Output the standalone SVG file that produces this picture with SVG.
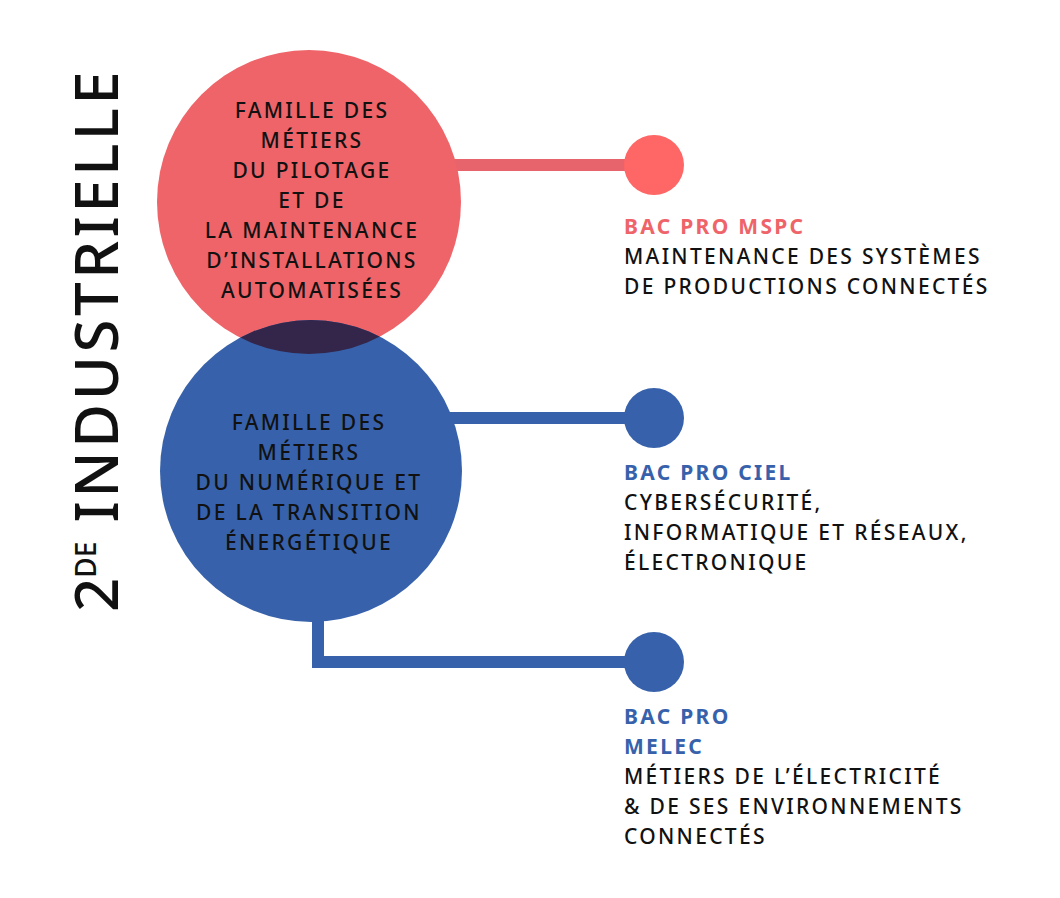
<svg xmlns="http://www.w3.org/2000/svg" width="1060" height="898" viewBox="0 0 1060 898">
<style>
.t{font-family:"Noto Sans","DejaVu Sans",sans-serif;font-size:21px;fill:#111;font-weight:500;letter-spacing:2.3px}
.c{text-anchor:middle}
.h{font-weight:700}
.lr{stroke:#E8646C;stroke-width:12;fill:none}
.lb{stroke:#3762AB;stroke-width:12;fill:none}
</style>
<defs>
<clipPath id="clipRed"><circle cx="309" cy="202" r="152"/></clipPath>
</defs>
<rect width="1060" height="898" fill="#fff"/>
<g id="connectors">
<line class="lr" x1="440" y1="165" x2="640" y2="165"/>
<line class="lb" x1="440" y1="418" x2="640" y2="418"/>
<polyline class="lb" points="318,600 318,662 640,662"/>
</g>
<g id="title">
<text transform="translate(118,612) rotate(-90)" style="font-family:'Noto Sans','DejaVu Sans',sans-serif;font-size:60px;fill:#111;font-weight:500">2<tspan font-size="28" dy="-22">DE</tspan><tspan dy="22" letter-spacing="3.5"> INDUSTRIELLE</tspan></text>
</g>
<g id="famille-pilotage">
<circle cx="309" cy="202" r="152" fill="#EE6469"/>
</g>
<g id="famille-numerique">
<circle cx="311" cy="471" r="151" fill="#3762AB"/>
<circle cx="311" cy="471" r="151" fill="#33264A" clip-path="url(#clipRed)"/>
</g>
<g id="label-pilotage">
<text class="t c" x="312" y="118">FAMILLE DES</text>
<text class="t c" x="312" y="148">MÉTIERS</text>
<text class="t c" x="312" y="178">DU PILOTAGE</text>
<text class="t c" x="312" y="208">ET DE</text>
<text class="t c" x="312" y="238">LA MAINTENANCE</text>
<text class="t c" x="312" y="268">D’INSTALLATIONS</text>
<text class="t c" x="312" y="298">AUTOMATISÉES</text>
</g>
<g id="label-numerique">
<text class="t c" x="309" y="430">FAMILLE DES</text>
<text class="t c" x="309" y="460">MÉTIERS</text>
<text class="t c" x="309" y="490">DU NUMÉRIQUE ET</text>
<text class="t c" x="309" y="520">DE LA TRANSITION</text>
<text class="t c" x="309" y="550">ÉNERGÉTIQUE</text>
</g>
<g id="mspc">
<circle cx="654" cy="165" r="30" fill="#FF6666"/>
<text class="t h" x="624" y="234" style="fill:#EE6469">BAC PRO MSPC</text>
<text class="t" x="624" y="264">MAINTENANCE DES SYSTÈMES</text>
<text class="t" x="624" y="294">DE PRODUCTIONS CONNECTÉS</text>
</g>
<g id="ciel">
<circle cx="654" cy="418" r="30" fill="#3762AB"/>
<text class="t h" x="624" y="480" style="fill:#3762AB">BAC PRO CIEL</text>
<text class="t" x="624" y="510">CYBERSÉCURITÉ,</text>
<text class="t" x="624" y="540">INFORMATIQUE ET RÉSEAUX,</text>
<text class="t" x="624" y="570">ÉLECTRONIQUE</text>
</g>
<g id="melec">
<circle cx="654" cy="662" r="30" fill="#3762AB"/>
<text class="t h" x="624" y="724" style="fill:#3762AB">BAC PRO</text>
<text class="t h" x="624" y="754" style="fill:#3762AB">MELEC</text>
<text class="t" x="624" y="784">MÉTIERS DE L’ÉLECTRICITÉ</text>
<text class="t" x="624" y="814">&amp; DE SES ENVIRONNEMENTS</text>
<text class="t" x="624" y="844">CONNECTÉS</text>
</g>
</svg>
